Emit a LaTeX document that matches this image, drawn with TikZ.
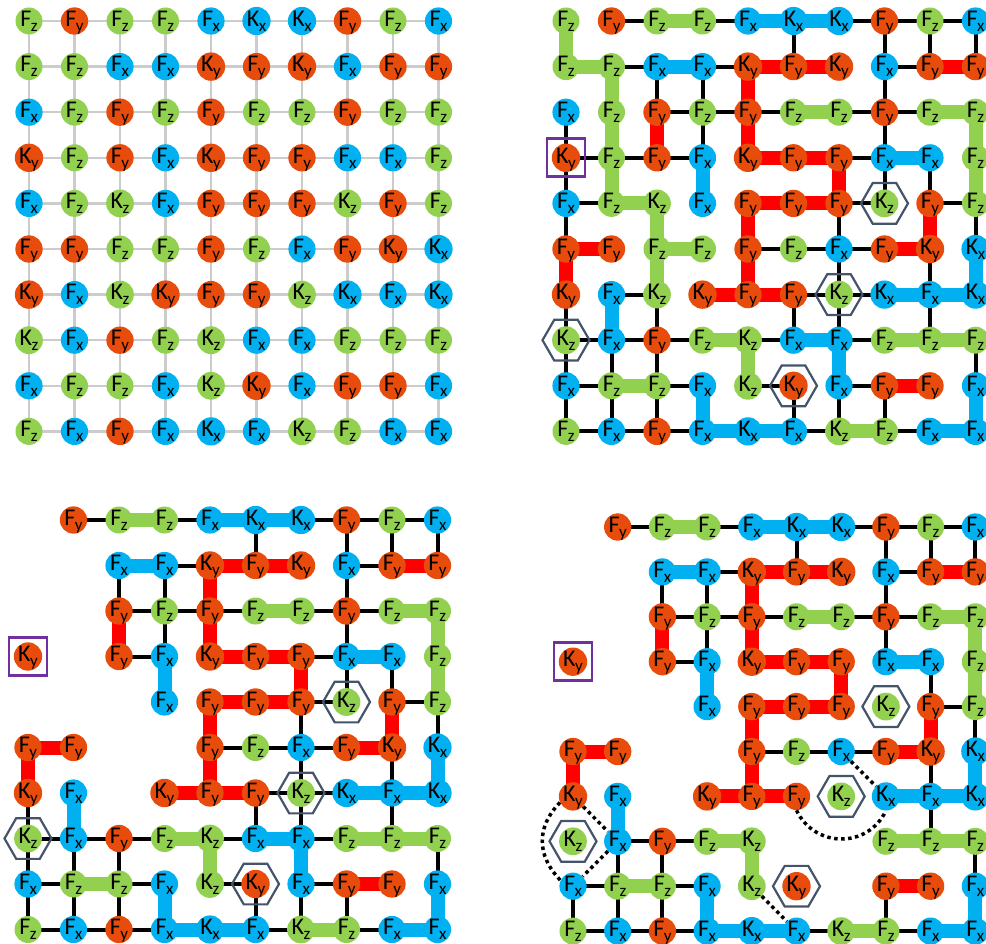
\documentclass[tikz,border=0pt]{standalone}
\usepackage{fontspec}
\setmainfont{Carlito}
\usetikzlibrary{shapes.geometric}
\pgfdeclarelayer{bg}
\pgfsetlayers{bg,main}
\definecolor{nx}{HTML}{00B0F0}
\definecolor{ny}{HTML}{E84C0C}
\definecolor{nz}{HTML}{92D050}
\definecolor{bx}{HTML}{00B0F0}
\definecolor{by}{HTML}{FF0000}
\definecolor{bz}{HTML}{92D050}
\definecolor{hexc}{HTML}{44546A}
\definecolor{sqc}{HTML}{7030A0}
\tikzset{
 nd/.style={circle, minimum size=27pt, inner sep=0pt, text height=15.5pt, text depth=5pt, font=\fontsize{24}{24}\selectfont},
 gridline/.style={draw=gray!40, line width=2.5pt},
 blk/.style={draw=black, line width=4pt},
 barline/.style={line width=14pt},
 hexa/.style={regular polygon, regular polygon sides=6, minimum size=47pt, inner sep=0pt, draw=hexc, line width=2.2pt},
 sqbox/.style={rectangle, minimum size=38pt, inner sep=0pt, draw=sqc, line width=2.8pt},
 dots/.style={draw=black, line width=3.5pt, dash pattern=on 3.5pt off 3.5pt},
}
\newcommand\lab[2]{#1\kern-0.5pt\raisebox{-5pt}{\fontsize{17}{17}\selectfont #2}}
\def\Labels{%
{F/z,F/y,F/z,F/z,F/x,K/x,K/x,F/y,F/z,F/x},%
{F/z,F/z,F/x,F/x,K/y,F/y,K/y,F/x,F/y,F/y},%
{F/x,F/z,F/y,F/z,F/y,F/z,F/z,F/y,F/z,F/z},%
{K/y,F/z,F/y,F/x,K/y,F/y,F/y,F/x,F/x,F/z},%
{F/x,F/z,K/z,F/x,F/y,F/y,F/y,K/z,F/y,F/z},%
{F/y,F/y,F/z,F/z,F/y,F/z,F/x,F/y,K/y,K/x},%
{K/y,F/x,K/z,K/y,F/y,F/y,K/z,K/x,F/x,K/x},%
{K/z,F/x,F/y,F/z,K/z,F/x,F/x,F/z,F/z,F/z},%
{F/x,F/z,F/z,F/x,K/z,K/y,F/x,F/y,F/y,F/x},%
{F/z,F/x,F/y,F/x,K/x,F/x,K/z,F/z,F/x,F/x}}
\def\Hdata{%
{0,1,2,1,2,2,1,1,1},{2,1,2,1,2,2,0,1,2},{0,0,1,1,1,2,1,1,2},{1,1,1,0,2,2,1,2,0},{1,2,0,0,2,2,1,0,1},%
{2,0,2,0,1,1,1,2,0},{0,1,0,2,2,1,1,2,2},{1,1,1,2,1,2,1,2,2},{1,2,1,0,1,0,1,2,0},{1,1,1,2,2,1,2,1,2}}
\def\HdataB{%
{0,1,2,1,2,2,1,1,1},{2,1,2,1,2,2,0,1,2},{0,0,1,1,1,2,1,1,2},{1,1,1,0,2,2,0,2,0},{1,2,0,0,2,2,1,0,1},%
{2,0,2,0,1,1,1,2,0},{0,1,0,2,2,1,1,2,2},{1,1,1,2,1,2,1,2,2},{1,2,1,0,1,0,1,2,0},{1,1,1,2,2,1,2,1,2}}
\def\Vdata{%
{2,0,0,0,0,1,0,1,1,1},{0,2,1,1,2,0,0,1,0,0},{1,2,2,1,2,0,0,1,0,2},{1,2,0,2,0,0,2,1,1,2},{1,0,2,0,2,0,1,0,2,1},%
{2,0,2,0,2,0,1,0,1,2},{1,2,1,0,0,1,1,0,1,0},{1,1,1,0,2,0,2,0,0,1},{1,1,1,2,0,1,1,1,0,2}}
\def\VdataB{%
{2,0,0,0,0,1,0,1,1,1},{0,2,1,1,2,0,0,1,0,0},{1,2,2,1,2,0,0,1,0,2},{1,2,0,2,0,0,2,1,1,2},{1,0,2,0,2,0,0,0,2,1},%
{2,0,2,0,2,0,1,0,1,2},{1,2,1,0,0,1,1,0,1,0},{1,1,1,0,2,0,2,0,0,1},{1,1,1,2,0,1,1,1,0,2}}
\newcommand\markset[2]{\foreach \p in {#2} {\expandafter\gdef\csname #1\p\endcsname{}}}
\markset{rm@p3@}{0-0,1-0,1-1,2-0,2-1,3-1,4-0,4-1,4-2,5-2,5-3,6-2}
\markset{rm@p4@}{0-0,1-0,1-1,2-0,2-1,3-1,4-0,4-1,4-2,5-2,5-3,6-2,7-5,7-6,8-6}
\markset{iso@p4@}{4-7,6-6,7-0,8-5}
\newcommand\mknodes[5]{%
 \foreach \row [count=\ri from 0] in \Labels {
  \foreach \L/\s [count=\ci from 0] in \row {
   \expandafter\xdef\csname sub@\ri-\ci\endcsname{\s}
   \coordinate (#1-\ri-\ci-pos) at ({#2+\ci*#4},{-(#3+\ri*#5)});
   \ifcsname rm@#1@\ri-\ci\endcsname\else
    \ifcsname iso@#1@\ri-\ci\endcsname
     \node[nd, fill=n\s] (#1-\ri-\ci-iso) at (#1-\ri-\ci-pos) {\lab{\L}{\s}};
    \else
     \node[nd, fill=n\s] (#1-\ri-\ci) at (#1-\ri-\ci-pos) {\lab{\L}{\s}};
    \fi
   \fi
  }
 }}
\newcommand\edgeAB[4]{%
 \ifcsname pgf@sh@ns@#1-#2\endcsname
  \ifcsname pgf@sh@ns@#1-#3\endcsname
   \ifnum#4=1 \draw[blk] (#1-#2.center) -- (#1-#3.center);\fi
   \ifnum#4=2 \edef\bc{b\csname sub@#2\endcsname}\draw[barline, draw=\bc] (#1-#2.center) -- (#1-#3.center);\fi
   \ifnum#4=3 \draw[gridline] (#1-#2.center) -- (#1-#3.center);\fi
  \fi
 \fi}
\newcommand\mkedges[3]{%
 \begin{pgfonlayer}{bg}
 \foreach \hr [count=\ri from 0] in #2 {
  \foreach \e [count=\ci from 0] in \hr {
   \pgfmathtruncatemacro\cn{\ci+1}
   \edgeAB{#1}{\ri-\ci}{\ri-\cn}{\e}
  }
 }
 \foreach \vr [count=\ri from 0] in #3 {
  \foreach \e [count=\ci from 0] in \vr {
   \pgfmathtruncatemacro\rn{\ri+1}
   \edgeAB{#1}{\ri-\ci}{\rn-\ci}{\e}
  }
 }
 \end{pgfonlayer}}
\def\Hgrid{{3,3,3,3,3,3,3,3,3},{3,3,3,3,3,3,3,3,3},{3,3,3,3,3,3,3,3,3},{3,3,3,3,3,3,3,3,3},{3,3,3,3,3,3,3,3,3},{3,3,3,3,3,3,3,3,3},{3,3,3,3,3,3,3,3,3},{3,3,3,3,3,3,3,3,3},{3,3,3,3,3,3,3,3,3},{3,3,3,3,3,3,3,3,3}}
\def\Vgrid{{3,3,3,3,3,3,3,3,3,3},{3,3,3,3,3,3,3,3,3,3},{3,3,3,3,3,3,3,3,3,3},{3,3,3,3,3,3,3,3,3,3},{3,3,3,3,3,3,3,3,3,3},{3,3,3,3,3,3,3,3,3,3},{3,3,3,3,3,3,3,3,3,3},{3,3,3,3,3,3,3,3,3,3},{3,3,3,3,3,3,3,3,3,3}}
\begin{document}
\begin{tikzpicture}[x=1pt,y=1pt]
\useasboundingbox (0,0) rectangle (986,-944);
\clip (0,0) rectangle (986,-944);
% panel 1
\mknodes{p1}{29}{21}{45.5}{45.6}
\mkedges{p1}{\Hgrid}{\Vgrid}
% panel 2
\mknodes{p2}{566}{21}{45.5}{45.6}
\mkedges{p2}{\Hdata}{\Vdata}
% panel 3
\mknodes{p3}{28}{520}{45.5}{45.5}
\mkedges{p3}{\Hdata}{\Vdata}
% panel 4
\mknodes{p4}{573}{527}{44.7}{44.9}
\mkedges{p4}{\HdataB}{\VdataB}
% markers
\foreach \pn in {p2,p3,p4}{
 \node[sqbox] (sq-\pn) at (\pn-3-0-pos) {};
 \foreach \q in {4-7,6-6,7-0,8-5}{
  \node[hexa] (hx-\pn-\q) at (\pn-\q-pos) {};
 }
}
% dotted paths in panel 4
\draw[dots] (p4-6-0.205) .. controls +(-24,-25) and +(-24,25) .. (p4-8-0.155);
\draw[dots] (p4-6-0) -- (p4-7-1);
\draw[dots] (p4-7-1) -- (p4-8-0);
\draw[dots] (p4-5-6) -- (p4-6-7);
\draw[dots] (p4-6-5.south) .. controls +(18,-38) and +(-18,-38) .. (p4-6-7.south);
\draw[dots] (p4-8-4) -- (p4-9-5);
\end{tikzpicture}
\end{document}
